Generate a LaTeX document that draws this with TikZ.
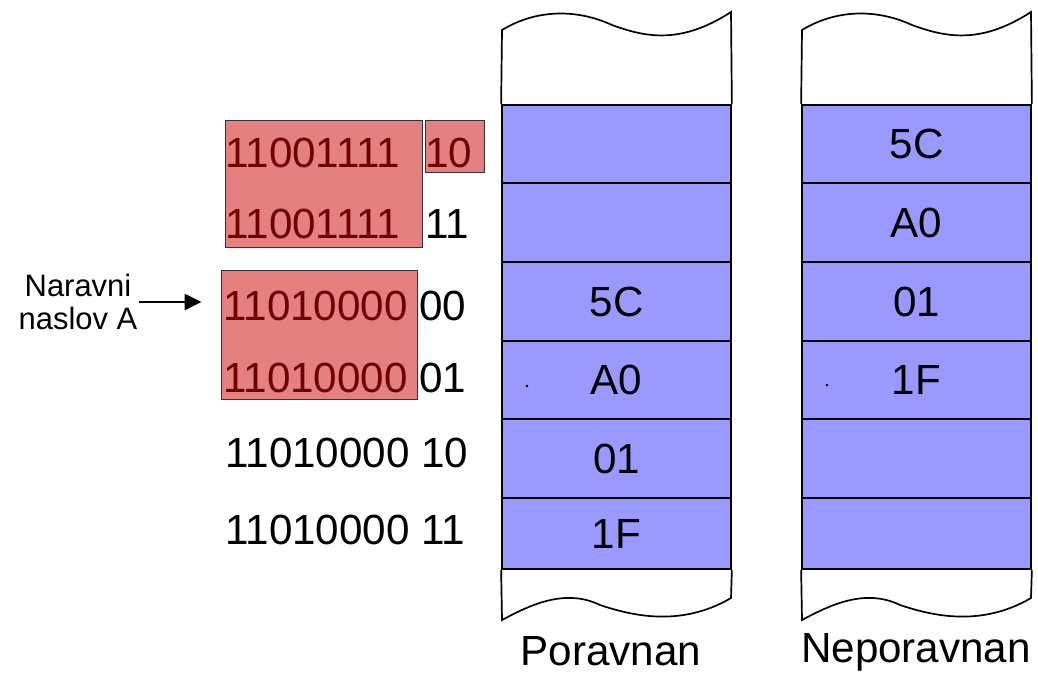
\documentclass[tikz,border=0pt]{standalone}
\usepackage{fontspec}
\setmainfont{Liberation Sans}
\usetikzlibrary{arrows.meta,fit}

\definecolor{cellblue}{RGB}{153,153,255}
\definecolor{selred}{RGB}{229,128,128}
\definecolor{seltext}{RGB}{110,0,0}
\newcommand\bigtext{\fontsize{30}{36}\selectfont}

\tikzset{
  cell/.style={draw, line width=1.2pt, fill=cellblue, minimum width=5.725cm, inner sep=0pt, font=\bigtext},
  addr/.style={anchor=base west, inner sep=0pt, font=\bigtext},
  selbox/.style={draw=black!80, line width=0.7pt, fill=selred, inner sep=0pt},
  caption/.style={anchor=base, inner sep=0pt, font=\bigtext}
}

\begin{document}
\begin{tikzpicture}[x=0.025cm, y=-0.025cm]
    \useasboundingbox (0,0) rectangle (1038,672);

    % poravnan
    \node[cell, minimum height=1.95cm]  (p1) at (616.5,144) {};
    \node[cell, minimum height=1.975cm] (p2) at (616.5,222.5) {};
    \node[cell, minimum height=1.975cm] (p3) at (616.5,301.5) {5C};
    \node[cell, minimum height=1.95cm]  (p4) at (616.5,380) {A0};
    \node[cell, minimum height=1.975cm] (p5) at (616.5,458.5) {01};
    \node[cell, minimum height=1.775cm] (p6) at (616.5,533.5) {1F};
    \draw[line width=1.2pt] (p1.north west) -- (502,30) .. controls (535,10) and (575,8) .. (612,25)
        .. controls (645,37) and (680,45) .. (731,12) -- (p1.north east);
    \draw[line width=1.2pt] (p6.south west) -- (502,620) .. controls (530,605) and (565,588) .. (600,605)
        .. controls (630,615) and (680,628) .. (731,598) -- (p6.south east);
    \fill (527,386) circle (1pt);

    % neporavnan
    \node[cell, minimum height=1.95cm]  (n1) at (916.5,144) {5C};
    \node[cell, minimum height=1.975cm] (n2) at (916.5,222.5) {A0};
    \node[cell, minimum height=1.975cm] (n3) at (916.5,301.5) {01};
    \node[cell, minimum height=1.95cm]  (n4) at (916.5,380) {1F};
    \node[cell, minimum height=1.975cm] (n5) at (916.5,458.5) {};
    \node[cell, minimum height=1.775cm] (n6) at (916.5,533.5) {};
    \draw[line width=1.2pt] (n1.north west) -- (802,30) .. controls (835,10) and (875,8) .. (912,25)
        .. controls (945,37) and (980,45) .. (1031,12) -- (n1.north east);
    \draw[line width=1.2pt] (n6.south west) -- (802,620) .. controls (830,605) and (865,588) .. (900,605)
        .. controls (930,615) and (980,628) .. (1031,598) -- (n6.south east);
    \fill (827,385) circle (1pt);

    \node[caption] (por) at (611,665) {Poravnan};
    \node[caption] (nepor) at (916,662) {Neporavnan};

    % naslovi
    \node[selbox, fit={(225,120) (422,247)}] (sel1) {};
    \node[selbox, fit={(425,120) (484,172)}] (sel1b) {};
    \node[selbox, fit={(221,270) (417,399)}] (sel2) {};

    \node[addr, text=seltext] (b1) at (225,167) {11001111};
    \node[addr, text=seltext] (s1) at (425,167) {10};
    \node[addr, text=seltext] (b2) at (225,238) {11001111};
    \node[addr] (s2) at (425,238) {11};
    \node[addr, text=seltext] (b3) at (223,320) {11010000};
    \node[addr] (s3) at (419,320) {00};
    \node[addr, text=seltext] (b4) at (223,392) {11010000};
    \node[addr] (s4) at (419,392) {01};
    \node[addr] (b5) at (225,467) {11010000 10};
    \node[addr] (b6) at (225,544) {11010000 11};

    \node[align=center, inner sep=0pt, font=\fontsize{22}{24}\selectfont] (nar) at (78,302) {Naravni\\naslov A};
    \draw[-{Triangle[length=0.42cm,width=0.4cm]}, line width=1.4pt, shorten <=1pt, shorten >=0.475cm]
        (nar.east) -- (nar.east -| sel2.west);
\end{tikzpicture}
\end{document}
